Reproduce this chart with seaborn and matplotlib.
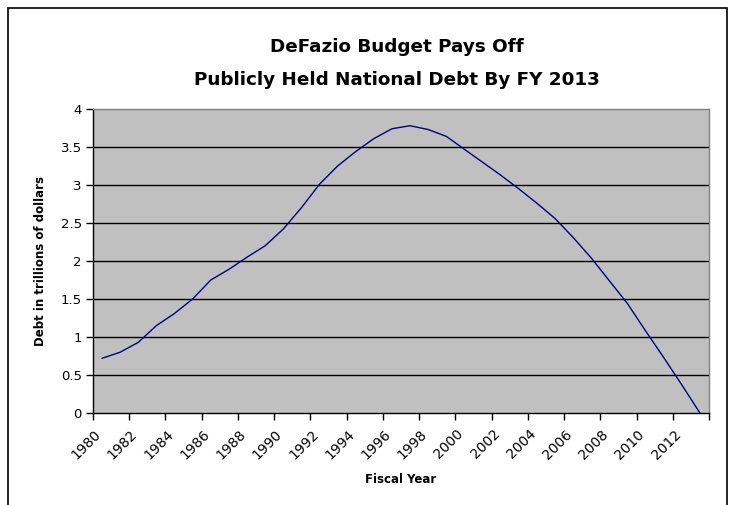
import pandas as pd
import seaborn as sns
import matplotlib.pyplot as plt
from matplotlib.patches import Rectangle

sns.set_style("white")
plt.rcParams['font.family'] = ['DejaVu Sans']
plt.rcParams['text.color'] = 'black'
plt.rcParams['axes.labelcolor'] = 'black'
plt.rcParams['xtick.color'] = 'black'
plt.rcParams['ytick.color'] = 'black'

years = list(range(1980, 2014))
debt = [0.72, 0.80, 0.93, 1.15, 1.31, 1.50, 1.75, 1.89, 2.05, 2.20,
        2.42, 2.70, 3.01, 3.25, 3.44, 3.61, 3.74, 3.78, 3.73, 3.64,
        3.47, 3.30, 3.13, 2.95, 2.76, 2.56, 2.31, 2.04, 1.74, 1.44,
        1.08, 0.73, 0.37, 0.0]
year_labels = [str(y) for y in range(1980, 2013, 2)]

df = pd.DataFrame({"year": years, "debt": debt})

fig = plt.figure(figsize=(7.35, 5.05), dpi=100)
ax = fig.add_axes([93 / 735, 92 / 505, 616 / 735, 304 / 505])
ax.set_facecolor("#c0c0c0")

for v in [0.5, 1, 1.5, 2, 2.5, 3, 3.5]:
    ax.axhline(v, color="black", lw=1, zorder=1)

sns.lineplot(data=df, x="year", y="debt", color="#000080", lw=1, ax=ax, zorder=3)

ax.set_xlim(1979.5, 2013.5)
ax.set_ylim(0, 4)

# tick marks on category boundaries, labels hang from each mark
ax.set_xticks([1979.5 + 2 * i for i in range(18)])
ax.set_xticklabels([])
ax.set_xticks([1979.55 + 2 * i for i in range(17)], minor=True)
ax.set_xticklabels(year_labels, minor=True, rotation=45, ha="right",
                   rotation_mode="anchor", fontsize=10)
ax.tick_params(axis="x", which="major", direction="out", length=5,
               width=1, color="black", bottom=True)
ax.tick_params(axis="x", which="minor", length=0, pad=10)

ax.set_yticks([0, 0.5, 1, 1.5, 2, 2.5, 3, 3.5, 4])
ax.set_yticklabels(["0", "0.5", "1", "1.5", "2", "2.5", "3", "3.5", "4"], fontsize=9.5)
ax.tick_params(axis="y", direction="out", length=5, width=1, color="black",
               left=True, pad=3)

for s in ["top", "right"]:
    ax.spines[s].set_color("#808080")
    ax.spines[s].set_linewidth(1)
for s in ["left", "bottom"]:
    ax.spines[s].set_color("black")
    ax.spines[s].set_linewidth(1)

ax.set_xlabel("Fiscal Year", fontsize=8.5, fontweight="bold", labelpad=8)
ax.set_ylabel("Debt in trillions of dollars", fontsize=8.5, fontweight="bold", labelpad=10)

fig.text(397 / 735, 1 - 47 / 505, "DeFazio Budget Pays Off", ha="center", va="center",
         fontsize=13.2, fontweight="bold")
fig.text(397 / 735, 1 - 80 / 505, "Publicly Held National Debt By FY 2013", ha="center",
         va="center", fontsize=13.2, fontweight="bold")

# outer chart frame (bottom edge runs off the image)
fig.patches.append(Rectangle((8 / 735, -0.05), 719 / 735, 1.05 - 8 / 505,
                             transform=fig.transFigure, fill=False,
                             edgecolor="black", lw=1.2))

fig.savefig("out.png", dpi=100)
